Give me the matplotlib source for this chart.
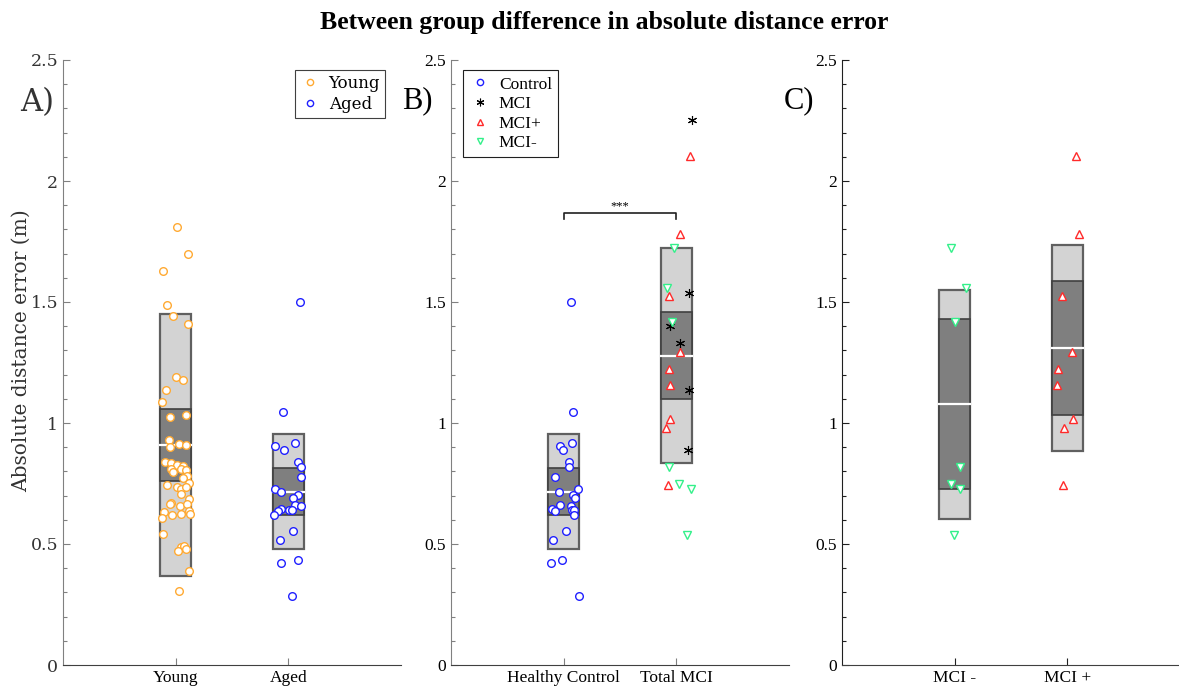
import numpy as np
import matplotlib
matplotlib.use('Agg')
import matplotlib.pyplot as plt
from matplotlib.ticker import MultipleLocator, FuncFormatter
from matplotlib.patches import Rectangle
from matplotlib.lines import Line2D

# ---- data ----
young_vals = [1.811, 1.697, 1.628, 1.486, 1.442, 1.409, 1.191, 1.179, 1.138, 1.085,
              1.025, 1.033, 0.928, 0.899, 0.915, 0.908, 0.839, 0.833, 0.825, 0.822,
              0.811, 0.798, 0.809, 0.806, 0.782, 0.774, 0.753, 0.745, 0.734, 0.726,
              0.737, 0.708, 0.686, 0.669, 0.664, 0.657, 0.664, 0.638, 0.632, 0.620,
              0.624, 0.624, 0.607, 0.540, 0.488, 0.492, 0.470, 0.478, 0.390, 0.304]
young_jit = [0.009, 0.106, -0.112, -0.080, -0.024, 0.106, 0.000, 0.065, -0.088, -0.121,
             -0.047, 0.091, -0.062, -0.053, 0.032, 0.091, -0.094, -0.044, 0.012, 0.062,
             -0.038, -0.024, 0.050, 0.091, 0.100, 0.065, 0.115, -0.080, 0.015, 0.050,
             0.091, 0.050, 0.115, -0.041, -0.050, 0.035, 0.097, 0.115, -0.103, -0.030,
             0.050, 0.124, -0.121, -0.112, 0.047, 0.074, 0.018, 0.091, 0.115, 0.032]

aged_vals = [1.499, 1.045, 0.903, 0.887, 0.916, 0.839, 0.818, 0.778, 0.726, 0.714,
             0.701, 0.690, 0.661, 0.657, 0.646, 0.636, 0.639, 0.639, 0.620, 0.555,
             0.515, 0.421, 0.434, 0.284]
aged_jit_a = [0.106, -0.044, -0.118, -0.035, 0.059, 0.086, 0.109, 0.109, -0.118, -0.068,
              0.086, 0.038, 0.059, 0.115, -0.065, -0.091, 0.006, 0.035, -0.124, 0.038,
              -0.077, -0.062, 0.086, 0.035]
aged_jit_b = [0.065, 0.080, -0.033, -0.009, 0.074, 0.050, 0.050, -0.080, 0.130, -0.038,
              0.083, 0.097, -0.029, 0.065, -0.103, -0.074, 0.075, 0.088, 0.088, 0.018,
              -0.095, -0.112, -0.015, 0.135]

mci_vals = [2.252, 1.539, 1.399, 1.329, 1.135, 0.887]
mci_jit = [0.139, 0.112, -0.053, 0.029, 0.109, 0.100]

mcip_vals = [2.105, 1.781, 1.526, 1.292, 1.222, 1.157, 1.015, 0.978, 0.744]
mcip_jit_b = [0.124, 0.035, -0.068, 0.035, -0.068, -0.059, -0.053, -0.091, -0.077]
mcip_jit_c = [0.080, 0.100, -0.050, 0.038, -0.080, -0.088, 0.053, -0.027, -0.035]

mcim_vals = [1.724, 1.559, 1.419, 0.820, 0.748, 0.729, 0.537]
mcim_jit_b = [-0.024, -0.086, -0.038, -0.068, 0.020, 0.130, 0.097]
mcim_jit_c = [-0.035, 0.100, 0.003, 0.044, -0.029, 0.044, -0.006]

# box stats: (sd_lo, sd_hi, ci_lo, ci_hi, mean)
young_box = (0.368, 1.450, 0.760, 1.058, 0.909)
aged_box = (0.479, 0.954, 0.620, 0.814, 0.715)
total_mci_box = (0.833, 1.724, 1.098, 1.460, 1.278)
mcim_box = (0.603, 1.551, 0.726, 1.428, 1.077)
mcip_box = (0.884, 1.734, 1.032, 1.587, 1.310)

labels_a = ['Young', 'Aged']
labels_b = ['Healthy Control', 'Total MCI']
labels_c = ['MCI -', 'MCI +']

ORANGE = '#ffaa33'
BLUE = '#2020ff'
RED = '#ff2a2a'
GREEN = '#33f08a'

SERIF = ['Liberation Serif', 'DejaVu Serif']
CAMB = ['DejaVu Serif']

fig = plt.figure(figsize=(11.79, 6.95), dpi=100)
W, H = 1179, 695


def make_ax(left, spine_col, tick_font, lab_col='black'):
    ax = fig.add_axes([left / W, (H - 665) / H, 338 / W, 605 / H])
    ax.set_xlim(0, 3)
    ax.set_ylim(0, 2.5)
    for s in ['top', 'right']:
        ax.spines[s].set_visible(False)
    ax.spines['left'].set_color(spine_col)
    ax.spines['bottom'].set_color('#404040')
    ax.yaxis.set_major_locator(MultipleLocator(0.5))
    ax.yaxis.set_minor_locator(MultipleLocator(0.1))
    ax.yaxis.set_major_formatter(FuncFormatter(lambda v, p: '{:g}'.format(v)))
    ax.set_xticks([1, 2])
    ax.tick_params(axis='both', which='major', direction='in', length=5, width=0.8,
                   color=spine_col, labelsize=12.5)
    ax.tick_params(axis='y', which='minor', direction='in', length=3, width=0.8,
                   color=spine_col)
    ax.tick_params(axis='y', labelcolor=lab_col)
    for t in ax.get_yticklabels():
        t.set_family(tick_font)
    return ax


def draw_box(ax, pos, st, w=0.28):
    lo, hi, clo, chi, m = st
    ax.add_patch(Rectangle((pos - w / 2, lo), w, hi - lo, facecolor='#d3d3d3',
                           edgecolor='#606060', lw=1.6, zorder=1))
    ax.add_patch(Rectangle((pos - w / 2, clo), w, chi - clo, facecolor='#7f7f7f',
                           edgecolor='#404040', lw=1.2, zorder=2))
    ax.plot([pos - w / 2, pos + w / 2], [m, m], color='white', lw=1.6, zorder=3)


def pts(ax, pos, jit, vals, marker, col, ms=5.5, mew=1.0):
    ax.plot(pos + np.array(jit), vals, linestyle='none', marker=marker, ms=ms,
            mfc='white', mec=col, mew=mew, zorder=4)


# ---- panel A ----
axA = make_ax(63, '#808080', CAMB, '#333333')
draw_box(axA, 1, young_box)
draw_box(axA, 2, aged_box)
pts(axA, 1, young_jit, young_vals, 'o', ORANGE)
pts(axA, 2, aged_jit_a, aged_vals, 'o', BLUE)
axA.set_xticklabels(labels_a, family=SERIF, fontsize=12.5)
axA.set_ylabel('Absolute distance error (m)', family=CAMB, fontsize=14.5, color='#333333')
axA.yaxis.set_label_coords(-0.095, 0.52)
legA = axA.legend(handles=[
    Line2D([], [], ls='none', marker='o', ms=4.5, mfc='white', mec=ORANGE, label='Young'),
    Line2D([], [], ls='none', marker='o', ms=4.5, mfc='white', mec=BLUE, label='Aged')],
    loc='upper right', bbox_to_anchor=(0.953, 0.983), borderaxespad=0,
    prop={'family': CAMB, 'size': 12}, fancybox=False, edgecolor='#404040',
    framealpha=1, handlelength=1.2, handletextpad=0.5, borderpad=0.3, labelspacing=0.2)
legA.get_frame().set_linewidth(0.8)

# ---- panel B ----
axB = make_ax(451, '#808080', SERIF)
draw_box(axB, 1, aged_box)
draw_box(axB, 2, total_mci_box)
pts(axB, 1, aged_jit_b, aged_vals, 'o', BLUE)
pts(axB, 2, mci_jit, mci_vals, (6, 2, 0), 'black', ms=6.5, mew=0.8)
pts(axB, 2, mcip_jit_b, mcip_vals, '^', RED)
pts(axB, 2, mcim_jit_b, mcim_vals, 'v', GREEN)
axB.set_xticklabels(labels_b, family=SERIF, fontsize=12.5)
axB.plot([1, 1, 2, 2], [1.843, 1.866, 1.866, 1.843], color='#202020', lw=1.2)
axB.text(1.5, 1.870, '***', ha='center', va='bottom', fontsize=9, family=SERIF)
legB = axB.legend(handles=[
    Line2D([], [], ls='none', marker='o', ms=4.5, mfc='white', mec=BLUE, label='Control'),
    Line2D([], [], ls='none', marker=(6, 2, 0), ms=5.5, mew=0.8, color='black', label='MCI'),
    Line2D([], [], ls='none', marker='^', ms=4.5, mfc='white', mec=RED, label='MCI+'),
    Line2D([], [], ls='none', marker='v', ms=4.5, mfc='white', mec=GREEN, label='MCI-')],
    loc='upper left', bbox_to_anchor=(0.036, 0.983), borderaxespad=0,
    prop={'family': SERIF, 'size': 12.5}, fancybox=False, edgecolor='#202020',
    framealpha=1, handlelength=1.2, handletextpad=0.5, borderpad=0.35, labelspacing=0.2)
legB.get_frame().set_linewidth(0.8)

# ---- panel C ----
axC = make_ax(842, '#202020', SERIF)
draw_box(axC, 1, mcim_box)
draw_box(axC, 2, mcip_box)
pts(axC, 1, mcim_jit_c, mcim_vals, 'v', GREEN)
pts(axC, 2, mcip_jit_c, mcip_vals, '^', RED)
axC.set_xticklabels(labels_c, family=SERIF, fontsize=12.5)

# panel letters and title
fig.text(37 / W, 1 - 103 / H, 'A)', family=CAMB, fontsize=22, ha='center', va='center',
         color='#333333')
fig.text(417 / W, 1 - 101 / H, 'B)', family=SERIF, fontsize=22, ha='center', va='center')
fig.text(799 / W, 1 - 101 / H, 'C)', family=SERIF, fontsize=22, ha='center', va='center')
fig.text(604 / W, 1 - 22 / H, 'Between group difference in absolute distance error',
         family=SERIF, fontsize=18.5, weight='bold', ha='center', va='center')

fig.savefig('out.png', dpi=100)
